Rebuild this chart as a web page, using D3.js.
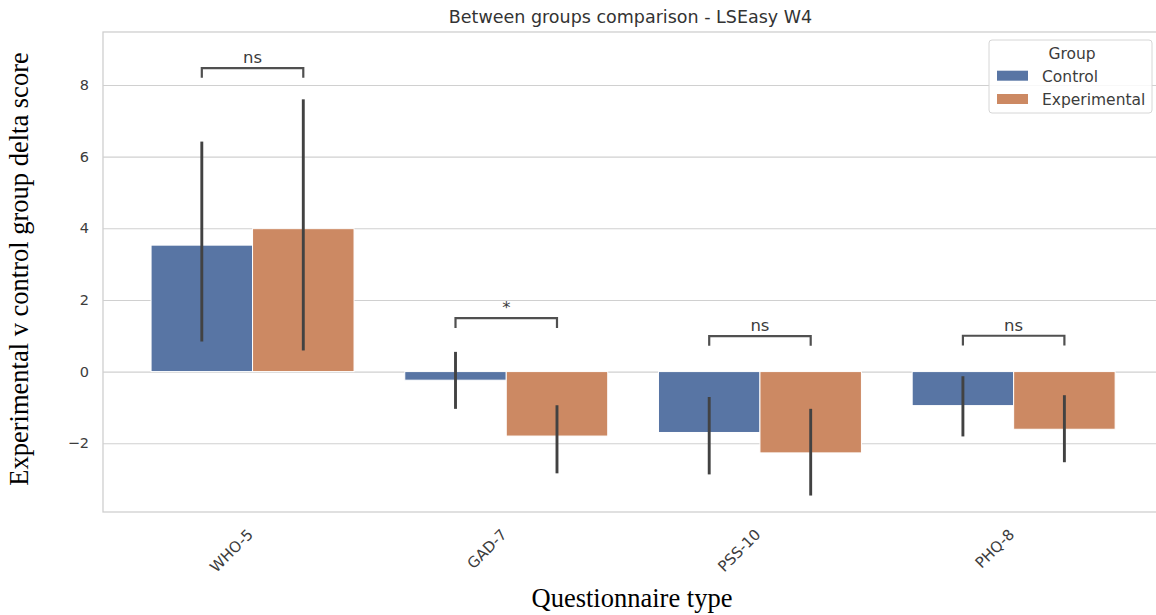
<!DOCTYPE html>
<html>
<head>
<meta charset="utf-8">
<script src="https://cdn.jsdelivr.net/npm/d3@7"></script>
<style>
  html, body { margin: 0; padding: 0; background: #ffffff; }
  svg { display: block; }
  .sans { font-family: "DejaVu Sans", sans-serif; }
  .serif { font-family: "Liberation Serif", "Times New Roman", serif; }
</style>
</head>
<body>
<svg id="chart" width="1156" height="615"></svg>
<script>
// Questionnaire categories and groups
const categories = ["WHO-5", "GAD-7", "PSS-10", "PHQ-8"];
const groups = ["Control", "Experimental"];

// Mean delta score per group, with 95% CI bounds
const controlMean = [3.53, -0.24, -1.70, -0.95];
const controlLow = [0.88, -1.00, -2.83, -1.77];
const controlHigh = [6.38, 0.51, -0.75, -0.17];

const experimentalMean = [3.99, -1.80, -2.27, -1.61];
const experimentalLow = [0.63, -2.80, -3.42, -2.49];
const experimentalHigh = [7.56, -0.98, -1.08, -0.70];

// Between-group test result per questionnaire and the height of its bracket
const significance = ["ns", "*", "ns", "ns"];
const bracketLevel = [8.47, 1.49, 0.99, 1.00];
const bracketDrop = 0.27;

const yTicks = [-2, 0, 2, 4, 6, 8];
const yDomain = [-3.92, 9.48];

const colors = { Control: "#5875a4", Experimental: "#cc8963" };

const series = {
  Control: { mean: controlMean, low: controlLow, high: controlHigh },
  Experimental: { mean: experimentalMean, low: experimentalLow, high: experimentalHigh }
};

const svg = d3.select("#chart");
const frame = { left: 103, top: 32, right: 1162, bottom: 512 };

// Scales
const x = d3.scaleBand().domain(categories).range([125.7, 1140.5]).paddingInner(0).paddingOuter(0);
const xInner = d3.scaleBand().domain(groups).range([x.bandwidth() * 0.1, x.bandwidth() * 0.9]);
const y = d3.scaleLinear().domain(yDomain).range([frame.bottom, frame.top]);

// Horizontal grid and value ticks
const yAxis = d3.axisLeft(y).tickValues(yTicks).tickSize(-(frame.right - frame.left)).tickPadding(14)
  .tickFormat(d => d < 0 ? "\u2212" + Math.abs(d) : String(d));
const gy = svg.append("g").attr("transform", `translate(${frame.left},0)`).call(yAxis);
gy.select(".domain").remove();
gy.selectAll(".tick line").attr("stroke", "#d0d0d0").attr("stroke-width", 1.1);
gy.selectAll(".tick text").attr("class", "sans").attr("font-size", 14.5).attr("fill", "#3c3c3c");

// Frame spines
svg.append("rect")
  .attr("x", frame.left).attr("y", frame.top)
  .attr("width", frame.right - frame.left).attr("height", frame.bottom - frame.top)
  .attr("fill", "none").attr("stroke", "#cfcfcf").attr("stroke-width", 1.3);

// Bars
const rows = [];
categories.forEach((c, i) => {
  groups.forEach(g => {
    rows.push({ cat: c, group: g, mean: series[g].mean[i], low: series[g].low[i], high: series[g].high[i] });
  });
});

const barG = svg.append("g");
barG.selectAll("rect").data(rows).join("rect")
  .attr("x", d => x(d.cat) + xInner(d.group))
  .attr("width", xInner.bandwidth())
  .attr("y", d => Math.min(y(d.mean), y(0)))
  .attr("height", d => Math.abs(y(d.mean) - y(0)))
  .attr("fill", d => colors[d.group])
  .attr("stroke", "#ffffff").attr("stroke-width", 1);

// Confidence interval lines
barG.selectAll("line.ci").data(rows).join("line")
  .attr("class", "ci")
  .attr("x1", d => x(d.cat) + xInner(d.group) + xInner.bandwidth() / 2)
  .attr("x2", d => x(d.cat) + xInner(d.group) + xInner.bandwidth() / 2)
  .attr("y1", d => y(d.low)).attr("y2", d => y(d.high))
  .attr("stroke", "#424242").attr("stroke-width", 2.9).attr("stroke-linecap", "square");

// Significance brackets
const annG = svg.append("g");
categories.forEach((c, i) => {
  const x1 = x(c) + xInner("Control") + xInner.bandwidth() / 2;
  const x2 = x(c) + xInner("Experimental") + xInner.bandwidth() / 2;
  const top = y(bracketLevel[i]);
  const foot = y(bracketLevel[i] - bracketDrop);
  annG.append("path")
    .attr("d", `M${x1},${foot}L${x1},${top}L${x2},${top}L${x2},${foot}`)
    .attr("fill", "none").attr("stroke", "#505050").attr("stroke-width", 2.2);
  annG.append("text").attr("class", "sans")
    .attr("x", (x1 + x2) / 2).attr("y", top - 5)
    .attr("text-anchor", "middle").attr("font-size", 16.5).attr("fill", "#3c3c3c")
    .text(significance[i]);
});

// Category tick labels, rotated
svg.append("g").selectAll("text").data(categories).join("text")
  .attr("class", "sans").attr("font-size", 15).attr("fill", "#3c3c3c")
  .attr("text-anchor", "end")
  .attr("transform", d => `translate(${x(d) + x.bandwidth() / 2 + 1.5},${frame.bottom + 23.5}) rotate(-45)`)
  .text(d => d);

// Title
svg.append("text").attr("class", "sans")
  .attr("x", 630.5).attr("y", 23)
  .attr("text-anchor", "middle").attr("font-size", 17.5).attr("fill", "#333333")
  .text("Between groups comparison - LSEasy W4");

// Axis titles
svg.append("text").attr("class", "serif")
  .attr("x", 632).attr("y", 607)
  .attr("text-anchor", "middle").attr("font-size", 26.5).attr("fill", "#000000")
  .text("Questionnaire type");

svg.append("text").attr("class", "serif")
  .attr("transform", "translate(28,269) rotate(-90)")
  .attr("text-anchor", "middle").attr("font-size", 26.5).attr("fill", "#000000")
  .text("Experimental v control group delta score");

// Legend
const lg = svg.append("g").attr("transform", "translate(989,40)");
lg.append("rect").attr("width", 163).attr("height", 73).attr("rx", 3)
  .attr("fill", "#ffffff").attr("fill-opacity", 0.85)
  .attr("stroke", "#d6d6d6").attr("stroke-width", 1);
lg.append("text").attr("class", "sans")
  .attr("x", 83).attr("y", 18.5).attr("text-anchor", "middle")
  .attr("font-size", 15.5).attr("fill", "#3c3c3c").text("Group");
groups.forEach((g, i) => {
  const row = lg.append("g").attr("transform", `translate(8,${30.7 + i * 23.3})`);
  row.append("rect").attr("width", 31).attr("height", 10).attr("fill", colors[g]);
  row.append("text").attr("class", "sans")
    .attr("x", 45).attr("y", 10.8).attr("font-size", 15.5).attr("fill", "#3c3c3c").text(g);
});
</script>
</body>
</html>
